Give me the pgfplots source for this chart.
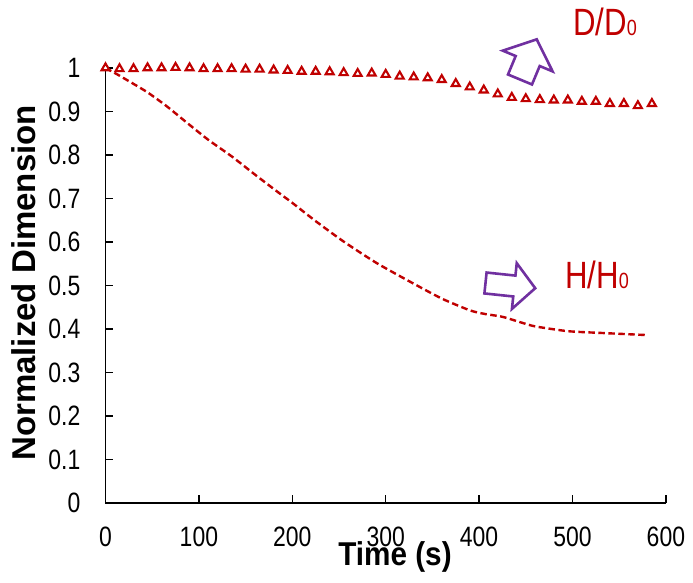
\documentclass[border=0pt]{standalone}
\usepackage{pgfplots}
\pgfplotsset{compat=1.18}
\usepackage{fontspec}
\setmainfont{Liberation Sans}
\newfontfamily\narrowfont{Liberation Sans}[FakeStretch=0.82]
\definecolor{dred}{HTML}{C00000}
\definecolor{apurple}{HTML}{7030A0}
\begin{document}
\begin{tikzpicture}
\path[use as bounding box] (-105.5pt,-80pt) rectangle (587.5pt,503pt);
\begin{axis}[
  at={(0,0)}, anchor=origin,
  scale only axis, width=560.4pt, height=435pt,
  xmin=0, xmax=600, ymin=0, ymax=1,
  axis lines=left,
  x axis line style={-}, y axis line style={-},
  axis line style={line width=1.6pt, black},
  xtick={0,100,200,300,400,500,600},
  ytick={0,0.1,0.2,0.3,0.4,0.5,0.6,0.7,0.8,0.9,1},
  tick align=inside, major tick length=8pt,
  tick style={line width=1.4pt, black},
  /pgf/number format/assume math mode=true,
  ticklabel style={font=\narrowfont\fontsize{28}{30}\selectfont, inner sep=0pt},
  xticklabel style={anchor=center, yshift=-34pt},
  yticklabel style={anchor=east, xshift=-25pt},
  xlabel={Time (s)}, ylabel={Normalized Dimension},
  label style={font=\bfseries\fontsize{33}{36}\selectfont, inner sep=0pt},
  xlabel style={at={(axis description cs:0.5166,-0.1241)}, anchor=center, xscale=0.9},
  ylabel style={at={(axis description cs:-0.1454,0.506)}, anchor=center},
  clip=false,
]
\addplot[dred, dash pattern=on 6.5pt off 3.5pt, line width=2.4pt, line join=round, smooth, tension=0.4] coordinates {
(0,1.0) (12,0.986) (28,0.966) (45,0.944) (65,0.913) (85,0.878) (110,0.835)
(135,0.797) (160,0.755) (185,0.714) (200,0.690) (225,0.648) (255,0.601)
(290,0.552) (325,0.510) (360,0.470) (390,0.443) (405,0.435) (425,0.428)
(445,0.415) (460,0.406) (495,0.395) (530,0.391) (580,0.386)
};
\addplot[only marks, mark=triangle*, mark size=4.6pt,
  mark options={draw=dred, fill=white, line width=2.1pt}] coordinates {
(0,1.000) (15,0.998) (30,0.998) (45,1.000) (60,1.000) (75,1.001) (90,1.000)
(105,0.998) (120,0.998) (135,0.998) (150,0.997) (165,0.997) (180,0.995)
(195,0.994) (210,0.992) (225,0.992) (240,0.991) (255,0.989) (270,0.987)
(285,0.988) (300,0.985) (315,0.981) (330,0.979) (345,0.977) (360,0.973)
(375,0.964) (390,0.956) (405,0.949) (420,0.940) (435,0.932) (450,0.929)
(465,0.927) (480,0.926) (495,0.926) (510,0.923) (525,0.923) (540,0.918)
(555,0.918) (570,0.913) (585,0.918)
};
\end{axis}
\node[anchor=base west, inner sep=0pt, text=dred, font=\narrowfont\fontsize{38}{38}\selectfont]
  at (467.5pt,467pt) {D/D{\fontsize{22}{22}\selectfont 0}};
\node[anchor=base west, inner sep=0pt, text=dred, font=\narrowfont\fontsize{38}{38}\selectfont]
  at (459.5pt,214pt) {H/H{\fontsize{22}{22}\selectfont 0}};
\draw[apurple, line width=2.6pt, fill=white, line join=miter, shift={(380pt,220pt)}, rotate=-6]
  (0pt,-10.5pt) -- (29pt,-10.5pt) -- (29pt,-23pt) -- (50pt,0pt) -- (29pt,23pt) -- (29pt,10.5pt) -- (0pt,10.5pt) -- cycle;
\draw[apurple, line width=2.6pt, fill=white, line join=miter, shift={(414.5pt,423.5pt)}, rotate=67.4]
  (0pt,-13pt) -- (20pt,-13pt) -- (20pt,-27pt) -- (43.5pt,0pt) -- (20pt,27pt) -- (20pt,13pt) -- (0pt,13pt) -- cycle;
\end{tikzpicture}
\end{document}
